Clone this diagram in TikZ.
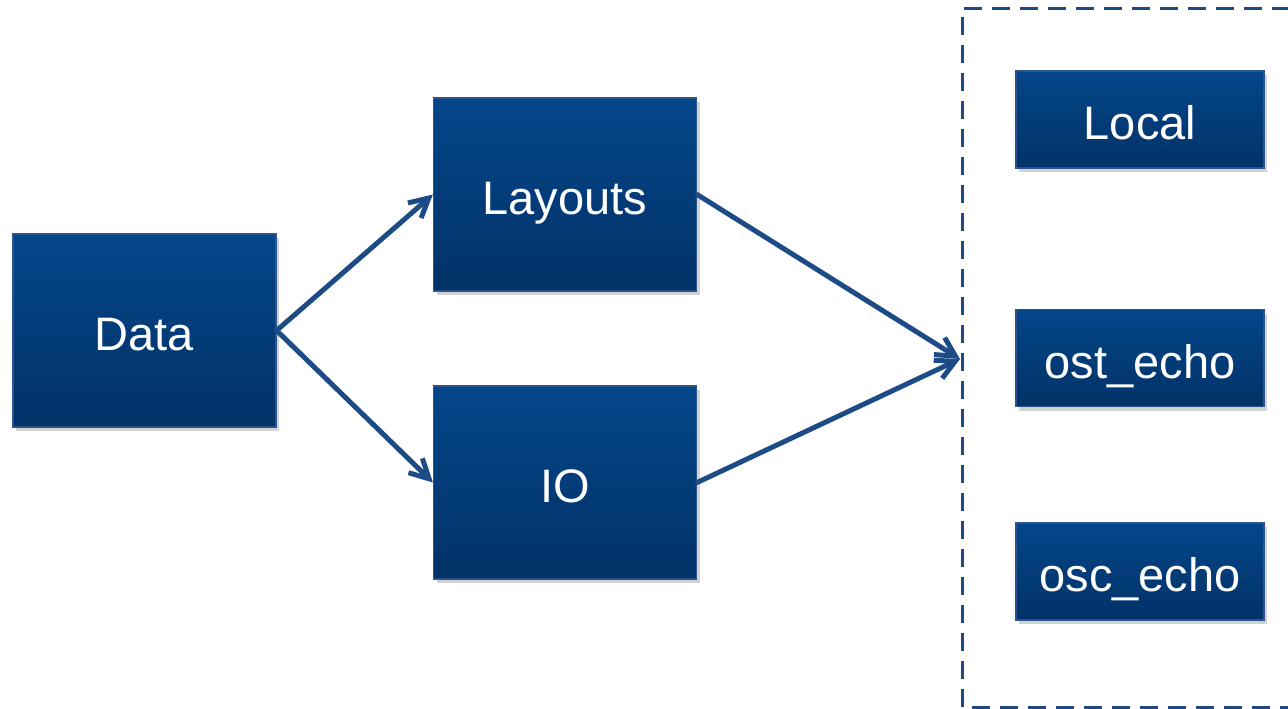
\documentclass[tikz,border=0pt]{standalone}
\usepackage{fontspec}
\setmainfont{Liberation Sans}
\usetikzlibrary{arrows.meta,shadows}

\definecolor{boxtop}{RGB}{4,70,138}
\definecolor{boxbot}{RGB}{2,50,103}
\definecolor{boxedge}{RGB}{44,84,142}
\definecolor{flow}{RGB}{29,75,133}
\definecolor{groupline}{RGB}{30,74,128}

\tikzset{
  block/.style={
    rectangle, inner sep=0pt, draw=boxedge, line width=1.2pt,
    top color=boxtop, bottom color=boxbot,
    text=white, font=\fontsize{47}{56}\selectfont,
    text height=44pt, text depth=4pt,
    drop shadow={shadow xshift=3pt, shadow yshift=-4pt, opacity=0.25, fill=black!70}
  },
  bigblock/.style={block, minimum width=263pt, minimum height=193pt},
  smallblock/.style={block, minimum width=248pt, minimum height=97pt},
  flowarrow/.style={draw=flow, line width=5pt, line cap=round,
    -{Straight Barb[length=19pt,width=20pt,line width=5pt]}},
  groupframe/.style={draw=groupline, line width=3pt, dash pattern=on 18pt off 10pt}
}

\begin{document}
\begin{tikzpicture}[x=1pt,y=-1pt]
  \useasboundingbox (0,0) rectangle (1288,709);

  % processing chain
  \node[bigblock] (data)    at (144.5,330.5) {Data};
  \node[bigblock] (layouts) at (565,194.5)   {Layouts};
  \node[bigblock] (io)      at (565,482.5)   {IO};

  % back-end group
  \draw[groupframe] (1290,9) -- (962,9) -- (962,707) -- (1290,707);
  \coordinate (merge) at (960,359);

  \node[smallblock] (local) at (1140,119.5) {Local};
  \node[smallblock] (ost)   at (1140,358)   {ost\_echo};
  \node[smallblock] (osc)   at (1140,571.5) {osc\_echo};

  % connectors
  \draw[flowarrow] (data.east) -- (layouts.west);
  \draw[flowarrow] (data.east) -- (io.west);
  \draw[flowarrow] (layouts.east) -- (merge);
  \draw[flowarrow] (io.east) -- (merge);
\end{tikzpicture}
\end{document}
